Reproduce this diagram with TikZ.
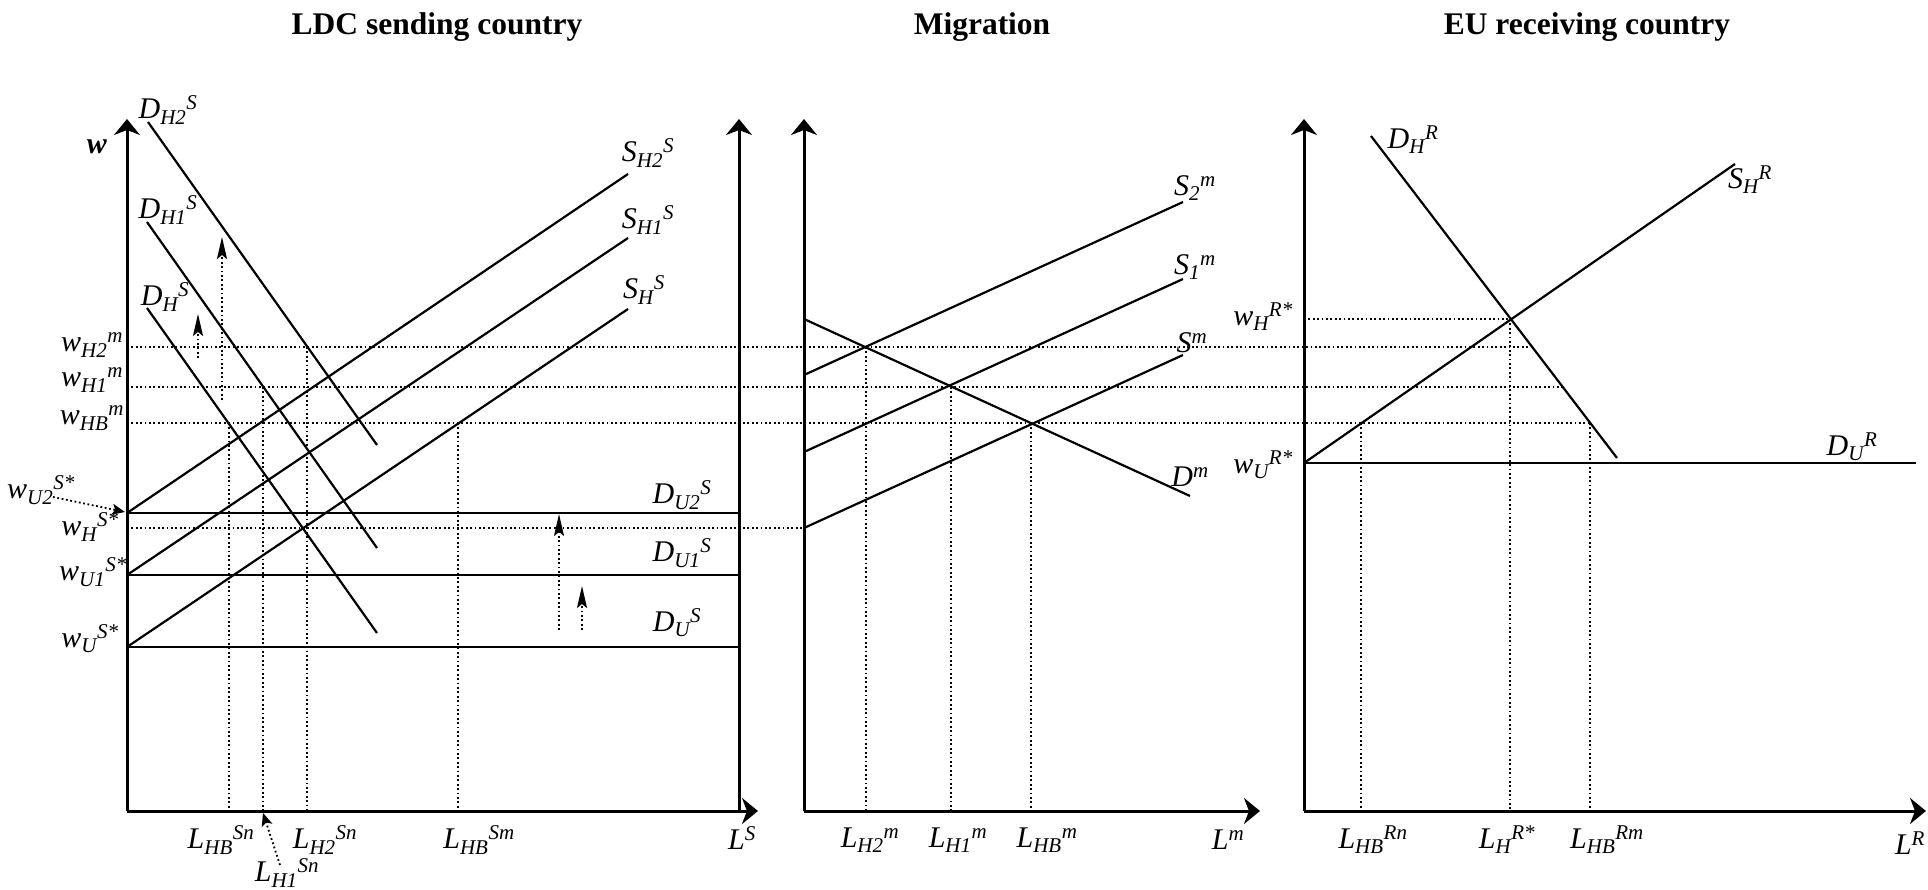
\documentclass[tikz,border=0pt]{standalone}
\usepackage{fontspec}
\setmainfont{Liberation Serif}
\usetikzlibrary{arrows.meta}

% label with subscript and trailing superscript, as in the figure
\newcommand{\glab}[3]{\textit{#1\textsubscript{#2}\textsuperscript{#3}}}
\newcommand{\labsize}{\fontsize{30}{36}\selectfont}
\newcommand{\titlesize}{\fontsize{31.5}{38}\selectfont}

\begin{document}
\begin{tikzpicture}[
    x=1pt, y=-1pt,
    every node/.style={font=\labsize, inner sep=0pt},
    title/.style={font=\titlesize\bfseries},
    curve/.style={line width=2.2pt},
    axis/.style={line width=3pt,-{Stealth[length=16pt,width=26pt,inset=5pt]}},
    guide/.style={line width=1.8pt,dash pattern=on 1.8pt off 2.6pt},
    shiftarrow/.style={guide,-{Stealth[length=22pt,width=10pt,inset=4pt]}},
    pointer/.style={guide,-{Stealth[length=13pt,width=11pt,inset=3pt]}},
]
\useasboundingbox (0,0) rectangle (1928,890);

% Panel titles
\node[title] (tS) at (437,27)  {LDC sending country};
\node[title] (tM) at (982,27)  {Migration};
\node[title] (tR) at (1587,27) {EU receiving country};

% --- Guide lines (dotted) shared by the three panels
\draw[guide] (127,347) -- (1532,347);
\draw[guide] (127,387) -- (1563,387);
\draw[guide] (127,423) -- (1590,423);
\draw[guide] (127,528) -- (804,528);
\draw[guide] (1304,319) -- (1511,319);

% LDC verticals
\draw[guide] (229,423) -- (229,811);
\draw[guide] (263,387) -- (263,811);
\draw[guide] (307,347) -- (307,811);
\draw[guide] (458,423) -- (458,811);
% Migration verticals
\draw[guide] (866,347)  -- (866,811);
\draw[guide] (951,387)  -- (951,811);
\draw[guide] (1031,423) -- (1031,811);
% EU verticals
\draw[guide] (1361,423) -- (1361,811);
\draw[guide] (1510,319) -- (1510,811);
\draw[guide] (1590,423) -- (1590,811);

% --- LDC sending country
\draw[axis] (127,811) -- (127,119);
\draw[axis] (739,811) -- (739,119);
\draw[axis] (127,811) -- (758,811);

\draw[curve] (127,513) -- (739,513);
\draw[curve] (127,575) -- (739,575);
\draw[curve] (127,647) -- (739,647);

\draw[curve] (127,513) -- (628,174);
\draw[curve] (127,575) -- (628,238);
\draw[curve] (127,647) -- (628,309);

\draw[curve] (148,122) -- (377,445);
\draw[curve] (147,222) -- (377,548);
\draw[curve] (147,308) -- (377,633);

% shifts of the curves
\draw[shiftarrow] (222,400) -- (222,237);
\draw[shiftarrow] (198,358) -- (198,314);
\draw[shiftarrow] (559,630) -- (559,514);
\draw[shiftarrow] (582,630) -- (582,586);

\node (w)      at (97,147)  {\textbf{\textit{w}}};
\node (DHtwoS) at (168,110) {\glab{D}{H2}{S}};
\node (DHoneS) at (168,210) {\glab{D}{H1}{S}};
\node (DHS)    at (165,297) {\glab{D}{H}{S}};
\node (SHtwoS) at (648,153) {\glab{S}{H2}{S}};
\node (SHoneS) at (648,220) {\glab{S}{H1}{S}};
\node (SHS)    at (644,290) {\glab{S}{H}{S}};
\node (DUtwoS) at (682,495) {\glab{D}{U2}{S}};
\node (DUoneS) at (682,553) {\glab{D}{U1}{S}};
\node (DUS)    at (677,623) {\glab{D}{U}{S}};

\node (wHtwom) at (92,345)  {\glab{w}{H2}{m}};
\node (wHonem) at (92,380)  {\glab{w}{H1}{m}};
\node (wHBm)   at (92,418)  {\glab{w}{HB}{m}};
\node (wUtwoS) at (41,490)  {\glab{w}{U2}{S*}};
\node (wHS)    at (90,527)  {\glab{w}{H}{S*}};
\node (wUoneS) at (93,572)  {\glab{w}{U1}{S*}};
\node (wUS)    at (90,639)  {\glab{w}{U}{S*}};

\node (LHBSn)  at (221,840) {\glab{L}{HB}{Sn}};
\node (LHtwoSn) at (325,840) {\glab{L}{H2}{Sn}};
\node (LHoneSn) at (287,873) {\glab{L}{H1}{Sn}};
\node (LHBSm)  at (479,840) {\glab{L}{HB}{Sm}};
\node (LS)     at (742,838) {\textit{L\textsuperscript{S}}};

\draw[pointer] (53,497) -- (125,512);
\draw[pointer] (280,865) -- (263,813);

% --- Migration
\draw[axis] (804,811) -- (804,119);
\draw[axis] (804,811) -- (1260,811);

\draw[curve] (804,319) -- (1190,496);
\draw[curve] (804,375) -- (1183,202);
\draw[curve] (804,452) -- (1183,279);
\draw[curve] (804,528) -- (1183,355);

\node (Stwom) at (1195,188) {\glab{S}{2}{m}};
\node (Sonem) at (1195,267) {\glab{S}{1}{m}};
\node (Sm)    at (1192,343) {\textit{S\textsuperscript{m}}};
\node (Dm)    at (1190,477) {\textit{D\textsuperscript{m}}};

\node (LHtwom) at (870,840)  {\glab{L}{H2}{m}};
\node (LHonem) at (958,840)  {\glab{L}{H1}{m}};
\node (LHBm)   at (1047,840) {\glab{L}{HB}{m}};
\node (Lm)     at (1228,840) {\textit{L\textsuperscript{m}}};

% --- EU receiving country
\draw[axis] (1304,811) -- (1304,119);
\draw[axis] (1304,811) -- (1926,811);

\draw[curve] (1371,136) -- (1617,458);
\draw[curve] (1304,463) -- (1735,164);
\draw[curve] (1304,463) -- (1916,463);

\node (DHR)  at (1413,140) {\glab{D}{H}{R}};
\node (SHR)  at (1750,180) {\glab{S}{H}{R}};
\node (DUR)  at (1852,447) {\glab{D}{U}{R}};
\node (wHR)  at (1263,317) {\glab{w}{H}{R*}};
\node (wUR)  at (1263,465) {\glab{w}{U}{R*}};

\node (LHBRn) at (1373,840) {\glab{L}{HB}{Rn}};
\node (LHR)   at (1507,840) {\glab{L}{H}{R*}};
\node (LHBRm) at (1607,840) {\glab{L}{HB}{Rm}};
\node (LR)    at (1910,843) {\textit{L\textsuperscript{R}}};
\end{tikzpicture}
\end{document}
